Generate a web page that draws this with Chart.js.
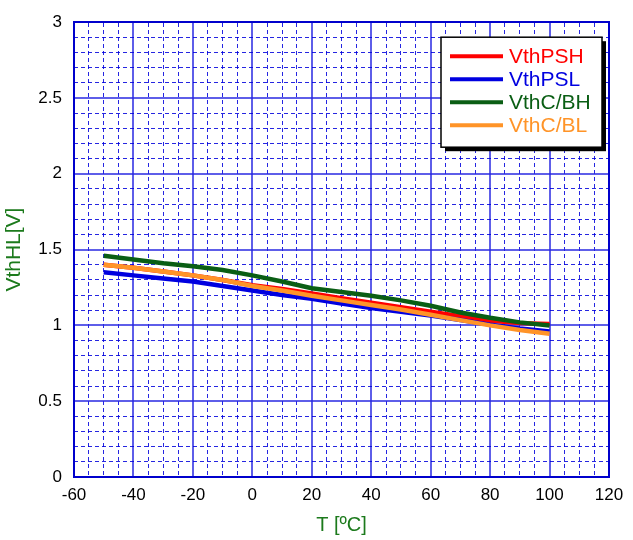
<!DOCTYPE html>
<html>
<head>
<meta charset="utf-8">
<script src="https://cdn.jsdelivr.net/npm/chart.js@4/dist/chart.umd.min.js"></script>
<style>
html,body{margin:0;padding:0;background:#fff;}
#wrap{width:633px;height:540px;position:relative;}
</style>
</head>
<body>
<div id="wrap"><canvas id="c" width="633" height="540"></canvas></div>
<script>
const temps = [-50,-40,-30,-20,-10,0,10,20,30,40,50,60,70,80,90,100];
const seriesNames = ['VthPSH','VthPSL','VthC/BH','VthC/BL'];
const vthPSH = [1.40,1.38,1.355,1.33,1.30,1.265,1.24,1.21,1.18,1.15,1.12,1.09,1.06,1.03,1.015,1.01];
const vthPSL = [1.35,1.33,1.31,1.29,1.26,1.23,1.20,1.175,1.145,1.115,1.09,1.065,1.035,1.005,0.98,0.96];
const vthCBH = [1.46,1.435,1.41,1.39,1.365,1.33,1.29,1.245,1.22,1.195,1.165,1.13,1.085,1.05,1.02,1.00];
const vthCBL = [1.40,1.38,1.355,1.33,1.30,1.26,1.23,1.195,1.165,1.135,1.105,1.07,1.035,1.00,0.97,0.945];
const seriesColors = ['#ff0000','#0000e0','#0a5e14','#ff9428'];
const drawOrder = [3, 2, 1, 0];
const xTickMin = -60, xTickMax = 120, xMajor = 20, xMinor = 5;
const yTickMin = 0, yTickMax = 3, yMajor = 0.5, yMinor = 0.1;
const xTitle = 'T [ºC]';
const yTitle = 'VthHL[V]';

const allSeries = [vthPSH, vthPSL, vthCBH, vthCBL];
const datasets = allSeries.map((vals, i) => ({
  label: seriesNames[i],
  data: temps.map((t, j) => ({x: t, y: vals[j]})),
  borderColor: seriesColors[i],
  backgroundColor: seriesColors[i],
  borderWidth: 4.5,
  pointRadius: 0,
  tension: 0,
  fill: false,
  order: drawOrder[i]
}));

const FONT = '"Liberation Sans", Arial, sans-serif';
const titleColor = '#1c7a1c';
const majorColor = 'rgba(40,40,225,0.75)';
const minorColor = 'rgba(0,0,220,0.85)';
const axisColor = '#0000cc';

function isMult(v, step){ const r = v/step; return Math.abs(r - Math.round(r)) < 1e-6; }

const boxLegend = {
  id: 'boxLegend',
  afterDraw(chart){
    const ctx = chart.ctx, a = chart.chartArea;
    const right = a.right - 7, top = a.top + 15, w = 161, h = 110;
    const left = right - w;
    ctx.save();
    ctx.fillStyle = '#000';
    ctx.fillRect(left + 4, top + 4, w, h);
    ctx.fillStyle = '#fff';
    ctx.fillRect(left, top, w, h);
    ctx.strokeStyle = '#000';
    ctx.lineWidth = 1.5;
    ctx.strokeRect(left, top, w, h);
    ctx.font = '21px ' + FONT;
    ctx.textBaseline = 'middle';
    chart.data.datasets.forEach((ds, i) => {
      const y = top + 19 + i * 23;
      ctx.strokeStyle = ds.borderColor;
      ctx.lineWidth = 4;
      ctx.beginPath();
      ctx.moveTo(left + 9, y);
      ctx.lineTo(left + 62, y);
      ctx.stroke();
      ctx.fillStyle = ds.borderColor;
      ctx.fillText(ds.label, left + 68, y + 1);
    });
    ctx.restore();
  }
};

new Chart(document.getElementById('c'), {
  type: 'line',
  data: { datasets },
  options: {
    responsive: false,
    animation: false,
    layout: { padding: { top: 20, right: 24, left: 0, bottom: 0 } },
    plugins: { legend: { display: false }, tooltip: { enabled: false } },
    scales: {
      x: {
        type: 'linear', position: 'bottom',
        min: xTickMin, max: xTickMax,
        ticks: { stepSize: xMajor, color: '#000', font: { family: FONT, size: 17 }, padding: 8, maxRotation: 0 },
        grid: { color: majorColor, lineWidth: 2, drawTicks: false, z: -1 },
        border: { color: axisColor, width: 2 },
        title: { display: true, text: xTitle, color: titleColor, font: { family: FONT, size: 20 }, padding: { top: 0, bottom: 3 } },
        afterFit(s){ s.height = 63; }
      },
      xMinor: {
        type: 'linear', position: 'top',
        min: xTickMin, max: xTickMax,
        ticks: { stepSize: xMinor, display: false },
        grid: { color: c => isMult(c.tick.value, xMajor) ? 'rgba(0,0,0,0)' : minorColor, lineWidth: 1, drawTicks: false, z: -1 },
        border: { color: axisColor, width: 2, dash: [4, 3] },
        afterFit(s){ s.height = 0; }
      },
      y: {
        type: 'linear', position: 'left',
        min: yTickMin, max: yTickMax,
        ticks: { stepSize: yMajor, color: '#000', font: { family: FONT, size: 17 }, padding: 12,
                 callback: v => String(Math.round(v*10)/10) },
        grid: { color: majorColor, lineWidth: 2, drawTicks: false, z: -1 },
        border: { color: axisColor, width: 2 },
        title: { display: true, text: yTitle, color: titleColor, font: { family: FONT, size: 21 }, padding: { top: 2, bottom: 0 } },
        afterFit(s){ s.width = 74; }
      },
      yMinor: {
        type: 'linear', position: 'right',
        min: yTickMin, max: yTickMax,
        ticks: { stepSize: yMinor, display: false },
        grid: { color: c => isMult(c.tick.value, yMajor) ? 'rgba(0,0,0,0)' : minorColor, lineWidth: 1, drawTicks: false, z: -1 },
        border: { color: axisColor, width: 2, dash: [4, 3] },
        afterFit(s){ s.width = 0; }
      }
    }
  },
  plugins: [boxLegend]
});
</script>
</body>
</html>
